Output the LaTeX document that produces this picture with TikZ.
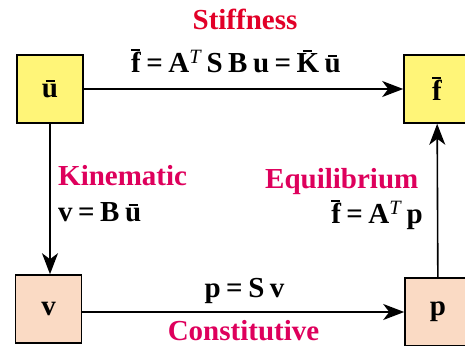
\documentclass[tikz,border=0pt]{standalone}
\usepackage{fontspec}
\setmainfont{Liberation Serif}
\usepackage{tikz}
\usetikzlibrary{positioning,arrows.meta}
\definecolor{boxyellow}{RGB}{255,245,120}
\definecolor{boxpeach}{RGB}{250,218,196}
\definecolor{redtitle}{RGB}{226,0,40}
\definecolor{magtitle}{RGB}{222,0,92}
% letter with a short bar over it: \brr{gap}{shift}{letter}
\newcommand{\brr}[3]{\leavevmode\setbox0\hbox{#3}%
  \rlap{\hbox to\wd0{\hss\kern#2\raisebox{\dimexpr\ht0+#1\relax}{\rule{9pt}{2pt}}\hss}}\box0\relax}
\newcommand{\supT}{\textsuperscript{\mdseries\itshape T}}

\begin{document}
\begin{tikzpicture}[x=1pt, y=1pt,
  font=\fontsize{29}{31}\selectfont\bfseries,
  box/.style={draw, line width=1.6pt, minimum width=66pt, minimum height=68pt, inner sep=0pt},
  arr/.style={-{Stealth[length=21pt, width=16pt, inset=6pt]}, line width=1.6pt},
  ttl/.style={inner sep=0pt},
  eqn/.style={inner sep=0pt, execute at begin node={\spaceskip=5.5pt\relax}}
]
\useasboundingbox (0,0) rectangle (465,345);
\node[box, fill=boxyellow] (u) at (50,256) {\brr{3pt}{0pt}{u}};
\node[box, fill=boxyellow] (f) at (437,256) {\brr{1.5pt}{-1pt}{f}};
\node[box, fill=boxpeach] (v) at (48.5,36) {v};
\node[box, fill=boxpeach] (p) at (438,33) {p};
\draw[arr] (u) -- (f);
\draw[arr] (u.south) -- (u.south |- v.north);
\draw[arr] (v.east |- p.west) -- (p.west);
\draw[arr] (p) -- (f);

\node[ttl, anchor=base, text=redtitle] (stf) at (245,315) {Stiffness};
\node[eqn, anchor=base] (stfeq) at (236,272) {\brr{1.5pt}{-1pt}{f} = A\supT{} S B u = \brr{2.5pt}{-1pt}{K} \brr{3pt}{0pt}{u}};
\node[ttl, anchor=base west, text=magtitle] (kin) at (58,159) {Kinematic};
\node[eqn, anchor=base west] (kineq) at (58,123) {v = B \brr{3pt}{0pt}{u}};
\node[ttl, anchor=base west, text=magtitle] (equ) at (265,156) {Equilibrium};
\node[eqn, anchor=base east] (equeq) at (423,121) {\brr{1.5pt}{-1pt}{f} = A\supT{} p};
\node[eqn, anchor=base] (coneq) at (244.5,48) {p = S v};
\node[ttl, anchor=base, text=magtitle] (con) at (243.5,5) {Constitutive};
\end{tikzpicture}
\end{document}
